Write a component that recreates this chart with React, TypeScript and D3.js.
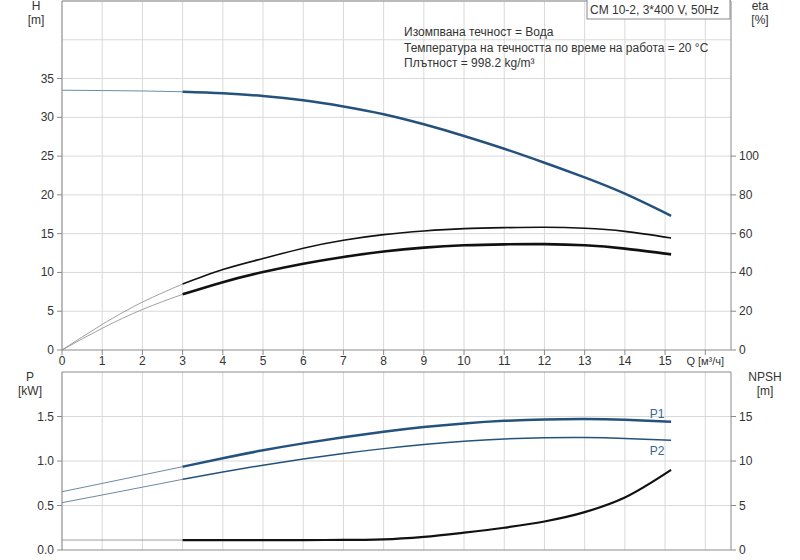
import React from 'react'
import * as d3 from 'd3'

// flow points (m³/h)
const qPts = [0, 1, 2, 3, 4, 5, 6, 7, 8, 9, 10, 11, 12, 13, 14, 15.15]
const headVals = [33.5, 33.45, 33.4, 33.3, 33.1, 32.75, 32.2, 31.4, 30.4, 29.1, 27.6, 25.95, 24.15, 22.25, 20.15, 17.3]
const etaPump = [0, 13.2, 24.7, 34, 41.5, 47.2, 52.5, 56.6, 59.5, 61.4, 62.6, 63.1, 63.3, 62.8, 61.2, 57.8]
const etaTotal = [0, 11.2, 20.9, 28.7, 35.0, 40.2, 44.5, 48.0, 50.8, 52.8, 54.0, 54.5, 54.6, 54.0, 52.3, 49.3]
const p1Vals = [0.655, 0.748, 0.842, 0.936, 1.031, 1.12, 1.198, 1.266, 1.328, 1.381, 1.422, 1.451, 1.467, 1.472, 1.464, 1.442]
const p2Vals = [0.532, 0.618, 0.706, 0.794, 0.877, 0.953, 1.022, 1.084, 1.139, 1.185, 1.222, 1.248, 1.261, 1.263, 1.254, 1.233]
const npshVals = [1.12, 1.12, 1.12, 1.12, 1.12, 1.12, 1.12, 1.13, 1.2, 1.48, 1.95, 2.5, 3.2, 4.25, 5.9, 9.0]

const qTicks = d3.range(0, 16)
const hTicks = [0, 5, 10, 15, 20, 25, 30, 35]
const etaTicks = [0, 20, 40, 60, 80, 100]
const pTicks = [0, 0.5, 1.0, 1.5]
const npshTicks = [0, 5, 10, 15]

const infoLines = [
  'Изомпвана течност = Вода',
  'Температура на течността по време на работа = 20 °C',
  'Плътност = 998.2 kg/m³',
]
const pumpName = 'CM 10-2, 3*400 V, 50Hz'

const BLUE = '#24527d'
const GRID = '#d9d9d9'
const AXIS = '#8a8a8a'
const TXT = '#333'

export default function App() {
  const L = 62, R = 731
  const x = d3.scaleLinear().domain([0, 16.64]).range([L, R])
  const yH = d3.scaleLinear().domain([0, 45]).range([350, 1])
  const yEta = d3.scaleLinear().domain([0, 180]).range([350, 1])
  const yP = d3.scaleLinear().domain([0, 2]).range([550, 372])
  const yN = d3.scaleLinear().domain([0, 20]).range([550, 372])

  const mk = (ys: number[], sc: d3.ScaleLinear<number, number>, part: 'lo' | 'hi', curve: d3.CurveFactory) => {
    const pts = qPts.map((q, i) => [q, ys[i]] as [number, number])
      .filter(d => (part === 'lo' ? d[0] <= 3 : d[0] >= 3))
    return d3.line<[number, number]>()
      .x(d => x(d[0]))
      .y(d => sc(d[1]))
      .curve(curve)(pts) || ''
  }

  const curves = [
    { ys: headVals, sc: yH, c: BLUE, lo: 1, hi: 2.5, cl: '#6b8bab', cv: d3.curveNatural },
    { ys: etaPump, sc: yEta, c: '#111', lo: 0.8, hi: 1.6, cl: '#888', cv: d3.curveNatural },
    { ys: etaTotal, sc: yEta, c: '#111', lo: 0.8, hi: 2.6, cl: '#888', cv: d3.curveNatural },
    { ys: p1Vals, sc: yP, c: BLUE, lo: 0.8, hi: 2.5, cl: '#4a6a8a', cv: d3.curveNatural },
    { ys: p2Vals, sc: yP, c: BLUE, lo: 0.8, hi: 1.5, cl: '#4a6a8a', cv: d3.curveNatural },
    { ys: npshVals, sc: yN, c: '#111', lo: 0.8, hi: 2.2, cl: '#888', cv: d3.curveMonotoneX },
  ]

  const font = { fontFamily: 'Arial, "Liberation Sans", sans-serif', fontSize: 12, fill: TXT }

  return (
    <svg width={800} height={560} style={{ position: 'absolute', left: 0, top: 0, background: '#fff' }}>
      <g style={font as any}>
        {/* grid top */}
        {d3.range(0, 17).map(q => (
          <line key={'vt' + q} x1={x(q)} x2={x(q)} y1={yH(45)} y2={yH(0)} stroke={GRID} />
        ))}
        {d3.range(5, 46, 5).map(h => (
          <line key={'ht' + h} x1={L} x2={R} y1={yH(h)} y2={yH(h)} stroke={GRID} />
        ))}
        {/* grid bottom */}
        {d3.range(0, 17).map(q => (
          <line key={'vb' + q} x1={x(q)} x2={x(q)} y1={yP(2)} y2={yP(0)} stroke={GRID} />
        ))}
        {[0.5, 1.0, 1.5].map(p => (
          <line key={'hb' + p} x1={L} x2={R} y1={yP(p)} y2={yP(p)} stroke={GRID} />
        ))}

        {/* frames */}
        <line x1={L} x2={R} y1={yH(45)} y2={yH(45)} stroke={AXIS} />
        <line x1={L} x2={R} y1={yP(2)} y2={yP(2)} stroke={AXIS} />
        <line x1={L} x2={L} y1={yH(45)} y2={yH(0)} stroke={AXIS} />
        <line x1={R} x2={R} y1={yH(45)} y2={yH(0)} stroke={AXIS} />
        <line x1={L} x2={R} y1={yH(0)} y2={yH(0)} stroke={AXIS} />
        <line x1={L} x2={L} y1={yP(2)} y2={yP(0)} stroke={AXIS} />
        <line x1={R} x2={R} y1={yP(2)} y2={yP(0)} stroke={AXIS} />
        <line x1={L} x2={R} y1={yP(0)} y2={yP(0)} stroke={AXIS} />

        {/* x ticks */}
        {d3.range(0, 17).map(q => (
          <line key={'xt' + q} x1={x(q)} x2={x(q)} y1={350} y2={355} stroke={AXIS} />
        ))}
        {qTicks.map(q => (
          <text key={'xl' + q} x={x(q)} y={365} textAnchor="middle">{q}</text>
        ))}
        <text x={x(16)} y={365} textAnchor="middle" style={{ fontSize: 11 }}>Q [м³/ч]</text>

        {/* left H axis */}
        {hTicks.map(h => (
          <g key={'h' + h}>
            <line x1={L - 5} x2={L} y1={yH(h)} y2={yH(h)} stroke={AXIS} />
            <text x={L - 8} y={yH(h) + 4} textAnchor="end">{h}</text>
          </g>
        ))}
        <text x={36} y={10} textAnchor="middle">H</text>
        <text x={36} y={24} textAnchor="middle">[m]</text>

        {/* right eta axis */}
        {etaTicks.map(e => (
          <g key={'e' + e}>
            <line x1={R} x2={R + 5} y1={yEta(e)} y2={yEta(e)} stroke={AXIS} />
            <text x={R + 8} y={yEta(e) + 4}>{e}</text>
          </g>
        ))}
        <text x={760} y={10} textAnchor="middle">eta</text>
        <text x={760} y={24} textAnchor="middle">[%]</text>

        {/* left P axis */}
        {pTicks.map(p => (
          <g key={'p' + p}>
            <line x1={L - 5} x2={L} y1={yP(p)} y2={yP(p)} stroke={AXIS} />
            <text x={L - 8} y={yP(p) + 4} textAnchor="end">{p.toFixed(1)}</text>
          </g>
        ))}
        <text x={30} y={381} textAnchor="middle">P</text>
        <text x={30} y={395} textAnchor="middle">[kW]</text>

        {/* right NPSH axis */}
        {npshTicks.map(n => (
          <g key={'n' + n}>
            <line x1={R} x2={R + 5} y1={yN(n)} y2={yN(n)} stroke={AXIS} />
            <text x={R + 8} y={yN(n) + 4}>{n}</text>
          </g>
        ))}
        <text x={765} y={381} textAnchor="middle">NPSH</text>
        <text x={765} y={395} textAnchor="middle">[m]</text>

        {/* curves */}
        {curves.map((c, i) => (
          <g key={'c' + i} fill="none">
            <path d={mk(c.ys, c.sc, 'lo', c.cv)} stroke={c.cl} strokeWidth={c.lo} />
            <path d={mk(c.ys, c.sc, 'hi', c.cv)} stroke={c.c} strokeWidth={c.hi} />
          </g>
        ))}
        <text x={657} y={418} textAnchor="middle" style={{ fill: '#3a6690' }}>P1</text>
        <text x={657} y={455} textAnchor="middle" style={{ fill: '#3a6690' }}>P2</text>

        {/* info */}
        {infoLines.map((t, i) => (
          <text key={'i' + i} x={404} y={36 + i * 15.5}>{t}</text>
        ))}
        <rect x={587} y={-1} width={143} height={20} fill="#fff" stroke={AXIS} />
        <text x={590} y={14}>{pumpName}</text>
      </g>
    </svg>
  )
}
